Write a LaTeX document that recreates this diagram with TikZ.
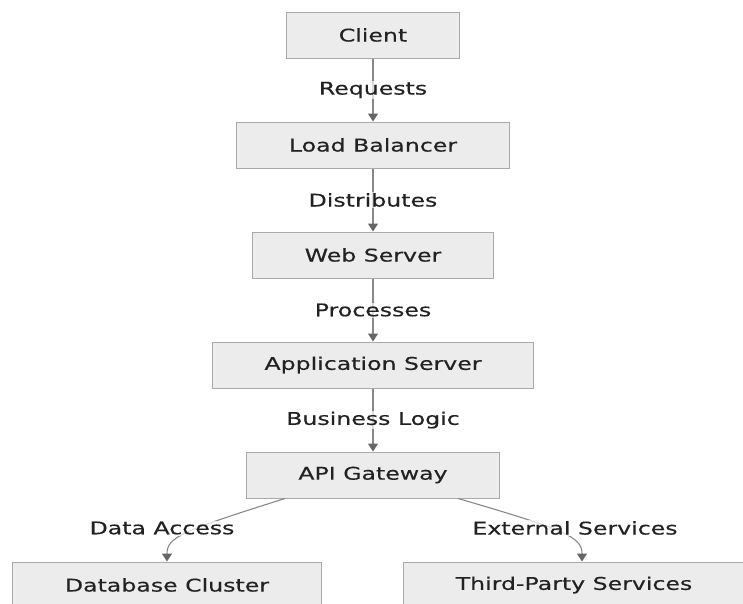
\documentclass[tikz,border=0pt]{standalone}
\usepackage{fontspec}
\setmainfont{DejaVu Sans}[FakeStretch=1.35, FakeBold=0.4]
\usetikzlibrary{arrows.meta}
\definecolor{boxfill}{HTML}{ECECEC}
\definecolor{boxline}{HTML}{AAAAAA}
\definecolor{edgeline}{HTML}{888888}
\definecolor{tipcol}{HTML}{666666}
\definecolor{txt}{HTML}{222222}
\tikzset{
  box/.style={draw=boxline, line width=1pt, fill=boxfill, text=txt,
    minimum height=46pt, inner xsep=52pt, font=\fontsize{17.5}{20}\selectfont},
  flow/.style={draw=edgeline, line width=1.1pt,
    -{Triangle[length=8pt, width=10pt, color=tipcol]}},
  lbl/.style={fill=white, fill opacity=0.7, text opacity=1, text=txt,
    inner sep=1pt, font=\fontsize{17.5}{20}\selectfont}
}
\begin{document}
\begin{tikzpicture}[x=1pt, y=-1pt]
            \clip (0,0) rectangle (743,603);
            % Boxes
            \node[box] (client) at (373,35) {Client};
            \node[box] (lb) at (373,145) {Load Balancer};
            \node[box] (web) at (373,255) {Web Server};
            \node[box] (app) at (373,365) {Application Server};
            \node[box] (api) at (373,475) {API Gateway};
            \node[box] (db) at (167,585) {Database Cluster};
            \node[box] (tp) at (574,585) {Third-Party Services};
            % Arrows
            \draw[flow] (client) -- node[lbl] {Requests} (lb);
            \draw[flow] (lb) -- node[lbl] {Distributes} (web);
            \draw[flow] (web) -- node[lbl] {Processes} (app);
            \draw[flow] (app) -- node[lbl] {Business Logic} (api);
            \draw[flow] ([xshift=39pt]api.south west) .. controls (182,531) and (167,537) .. (db.north);
            \draw[flow] ([xshift=-42pt]api.south east) .. controls (566,530) and (582,537) .. ([xshift=8pt]tp.north);
            % Labels
            \node[lbl] (dalbl) at (162,528) {Data Access};
            \node[lbl] (eslbl) at (575,528) {External Services};
        \end{tikzpicture}
\end{document}
